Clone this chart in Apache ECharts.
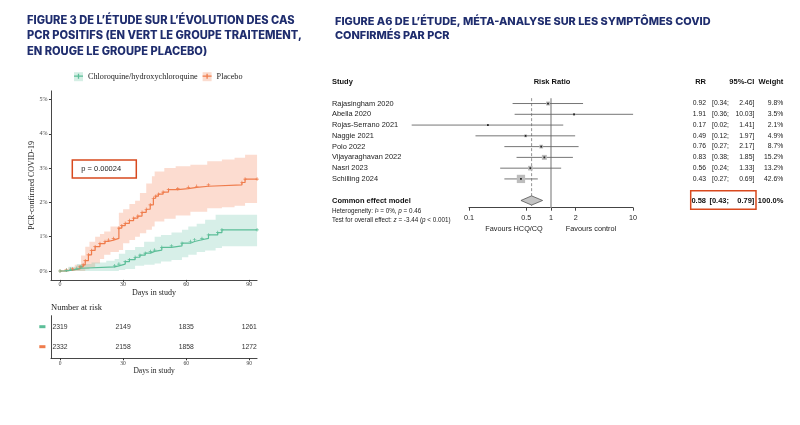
<!DOCTYPE html>
<html><head><meta charset="utf-8">
<script src="https://cdn.jsdelivr.net/npm/echarts@6/dist/echarts.min.js"></script>
<style>html,body{margin:0;padding:0;background:#fff}#c{width:800px;height:425px}</style>
</head><body><div id="c"></div>
<script>
// ---------- Data: Kaplan-Meier (cumulative % PCR-confirmed COVID-19) ----------
const placeboDays = [0, 3, 6, 9.5, 11, 12, 13.5, 15, 16.7, 19, 21.4, 23, 25.4, 28, 29.4, 31, 33, 35, 37, 39, 41, 42.9, 44.4, 45.5, 46.8, 49, 51.6, 56, 61, 65, 70.6, 86.5, 88, 93.7];
const placeboPct  = [0, 0.03, 0.06, 0.12, 0.18, 0.3, 0.47, 0.6, 0.71, 0.8, 0.86, 0.9, 0.95, 1.25, 1.32, 1.39, 1.47, 1.54, 1.6, 1.71, 1.8, 1.93, 2.12, 2.18, 2.24, 2.3, 2.37, 2.4, 2.44, 2.47, 2.51, 2.58, 2.68, 2.68];
const cqDays = [0, 3, 5, 8, 10, 26, 28, 31, 33, 35.7, 38, 40.5, 43, 45, 48.4, 53, 58, 62, 64, 67.5, 70.6, 75, 77, 93.7];
const cqPct  = [0, 0.02, 0.05, 0.08, 0.12, 0.15, 0.2, 0.27, 0.33, 0.4, 0.46, 0.52, 0.57, 0.61, 0.69, 0.73, 0.81, 0.86, 0.91, 0.95, 1.05, 1.12, 1.2, 1.2];
// confidence bands
const placeboBandDays = [0, 4, 7, 10, 12, 14, 16.7, 19, 21, 24, 28, 30, 33, 35.7, 38, 41, 43.7, 45, 49.6, 55, 62, 70, 77, 83, 88, 93.7];
const placeboUpper    = [0, 0.1, 0.18, 0.45, 0.71, 0.85, 1.0, 1.08, 1.15, 1.3, 1.7, 1.8, 1.95, 2.05, 2.27, 2.55, 2.76, 2.9, 3.0, 3.05, 3.1, 3.2, 3.25, 3.3, 3.39, 3.39];
const placeboLower    = [0, 0, 0, 0, 0.05, 0.1, 0.22, 0.35, 0.47, 0.55, 0.61, 0.81, 0.9, 1.0, 1.1, 1.2, 1.3, 1.44, 1.52, 1.62, 1.73, 1.83, 1.86, 1.9, 1.98, 2.0];
const cqBandDays = [0, 4, 8, 15, 22, 26, 28, 31, 35.7, 40, 45, 48, 53, 58, 61, 65, 69, 74, 77, 93.7];
const cqUpper    = [0, 0.12, 0.2, 0.25, 0.3, 0.35, 0.5, 0.61, 0.7, 0.85, 1.0, 1.05, 1.12, 1.2, 1.3, 1.38, 1.49, 1.64, 1.64, 1.64];
const cqLower    = [0, 0, 0, 0, 0, 0, 0.03, 0.06, 0.15, 0.18, 0.22, 0.28, 0.32, 0.4, 0.47, 0.55, 0.6, 0.67, 0.72, 0.72];
const kmXTicks = [0, 30, 60, 90];
const kmYTicks = [0, 1, 2, 3, 4, 5];
// number at risk
const riskDays = [0, 30, 60, 90];
const riskCQ = [2319, 2149, 1835, 1261];
const riskPlacebo = [2332, 2158, 1858, 1272];

// ---------- Data: forest plot ----------
const studies = ['Rajasingham 2020', 'Abella 2020', 'Rojas-Serrano 2021', 'Naggie 2021', 'Polo 2022', 'Vijayaraghavan 2022', 'Nasri 2023', 'Schilling 2024'];
const rr     = [0.92, 1.91, 0.17, 0.49, 0.76, 0.83, 0.56, 0.43];
const ciLow  = [0.34, 0.36, 0.02, 0.12, 0.27, 0.38, 0.24, 0.27];
const ciHigh = [2.46, 10.03, 1.41, 1.97, 2.17, 1.85, 1.33, 0.69];
const weights = [9.8, 3.5, 2.1, 4.9, 8.7, 15.2, 13.2, 42.6];
const pooledRR = 0.58, pooledLow = 0.43, pooledHigh = 0.79, pooledWeight = 100.0;
const rrTicks = [0.1, 0.5, 1, 2, 10];

// ---------- Styling ----------
const NAVY = '#1f2d6e', ORANGE = '#EF7C4C', GREEN = '#5CBE98';
const ORANGE_BAND = 'rgba(244,138,98,0.30)', GREEN_BAND = 'rgba(102,194,165,0.26)';
const SERIF = '"Liberation Serif","DejaVu Serif",serif';
const SANS = '"Liberation Sans",Arial,sans-serif';
const CQ = 'Chloroquine/hydroxychloroquine', PL = 'Placebo';
const PLUS = 'path://M4,0H6V4H10V6H6V10H4V6H0V4H4Z';
const LEG_PLUS = 'path://M0,4.3H10V5.7H0Z M4.3,2.2H5.7V7.8H4.3Z';
const L10 = Math.log10;

function stepBand(days, up, low, color) {
  return function (params, api) {
    const pts = [];
    for (let i = 0; i < days.length; i++) {
      pts.push(api.coord([days[i], up[i]]));
      if (i + 1 < days.length) pts.push(api.coord([days[i + 1], up[i]]));
    }
    for (let i = days.length - 1; i >= 0; i--) {
      if (i + 1 < days.length) pts.push(api.coord([days[i + 1], low[i]]));
      pts.push(api.coord([days[i], low[i]]));
    }
    return { type: 'polygon', shape: { points: pts }, style: { fill: color } };
  };
}

const RICH = {
  b: { fontWeight: 'bold', fontFamily: SANS, fontSize: 7.5, color: '#111' },
  s: { fontFamily: SANS, fontSize: 6.3, color: '#222' },
  i: { fontFamily: SANS, fontSize: 6.3, fontStyle: 'italic', color: '#222' }
};
function colAxis(position, margin, entries, align, fontSize) {
  return {
    gridIndex: 2, type: 'value', inverse: true, min: -0.5, max: 13.5, position: position,
    axisLine: { show: false, onZero: false }, axisTick: { show: false }, splitLine: { show: false },
    axisLabel: {
      customValues: entries.map(e => e[0]),
      formatter: v => { const e = entries.find(x => Math.abs(x[0] - v) < 1e-6); return e ? e[1] : ''; },
      align: align, margin: margin, fontFamily: SANS, fontSize: fontSize, color: '#222', rich: RICH
    }
  };
}
const studyEntries = [[0, '{b|Study}']].concat(studies.map((s, i) => [i + 2, s]),
  [[11, '{b|Common effect model}'],
   [12, '{s|Heterogeneity: }{i|I}{s|\u00b2 = 0%, }{i|p}{s| = 0.46}'],
   [12.85, '{s|Test for overall effect: }{i|z}{s| = -3.44 (}{i|p}{s| < 0.001)}']]);
const rrEntries = [[0, '{b|RR}']].concat(rr.map((v, i) => [i + 2, v.toFixed(2)]), [[11, '{b|' + pooledRR.toFixed(2) + '}']]);
const loEntries = ciLow.map((v, i) => [i + 2, '[' + v.toFixed(2) + ';']).concat([[11, '{b|[' + pooledLow.toFixed(2) + ';}']]);
const hiEntries = [[0, '{b|95%-CI}']].concat(ciHigh.map((v, i) => [i + 2, v.toFixed(2) + ']']), [[11, '{b|' + pooledHigh.toFixed(2) + ']}']]);
const wEntries = [[0, '{b|Weight}']].concat(weights.map((v, i) => [i + 2, v.toFixed(1) + '%']), [[11, '{b|' + pooledWeight.toFixed(1) + '%}']]);

const rrTickVals = rrTicks.map(L10);
const axisLineStyle = { color: '#333', width: 0.9 };

const option = {
  animation: false,
  backgroundColor: '#fff',
  title: [
    { text: 'FIGURE 3 DE L\u2019\u00c9TUDE SUR L\u2019\u00c9VOLUTION DES CAS\nPCR POSITIFS (EN VERT LE GROUPE TRAITEMENT,\nEN ROUGE LE GROUPE PLACEBO)',
      left: 27, top: 13, padding: 0, textStyle: { fontFamily: 'Inter', fontWeight: 800, fontSize: 11.1, lineHeight: 15.3, color: NAVY } },
    { text: 'FIGURE A6 DE L\u2019\u00c9TUDE, M\u00c9TA-ANALYSE SUR LES SYMPT\u00d4MES COVID\nCONFIRM\u00c9S PAR PCR',
      left: 335, top: 14, padding: 0, textStyle: { fontFamily: 'Inter', fontWeight: 800, fontSize: 10.9, lineHeight: 14.5, color: NAVY } },
    { text: 'Number at risk', left: 51, top: 303, padding: 0, textStyle: { fontFamily: SERIF, fontSize: 8.5, fontWeight: 'normal', color: '#222' } },
    { text: 'p = 0.00024', left: 72.3, top: 160, padding: [5, 15, 5, 9], borderColor: '#D8491E', borderWidth: 1.5,
      textStyle: { fontFamily: SANS, fontSize: 7.5, fontWeight: 'normal', color: '#222' } },
    { text: 'Risk Ratio', left: 552, top: 78, textAlign: 'center', padding: 0, textStyle: { fontFamily: SANS, fontSize: 7.5, fontWeight: 'bold', color: '#111' } },
    { text: 'Favours HCQ/CQ', left: 514, top: 225, textAlign: 'center', padding: 0, textStyle: { fontFamily: SANS, fontSize: 7.3, fontWeight: 'normal', color: '#222' } },
    { text: 'Favours control', left: 591, top: 225, textAlign: 'center', padding: 0, textStyle: { fontFamily: SANS, fontSize: 7.3, fontWeight: 'normal', color: '#222' } }
  ],
  legend: [
    { left: 74, top: 72.2, padding: 0, itemWidth: 9, itemHeight: 9, itemGap: 5, selectedMode: false,
      data: [{ name: CQ, icon: 'rect', itemStyle: { color: '#d5efe5' } }, { name: PL, icon: 'rect', itemStyle: { color: '#fbdccf' } }],
      textStyle: { fontFamily: SERIF, fontSize: 8.2, color: '#222' } },
    { left: 74, top: 72.2, padding: 0, itemWidth: 9, itemHeight: 9, itemGap: 5, selectedMode: false,
      data: [{ name: CQ, icon: LEG_PLUS, itemStyle: { color: GREEN } }, { name: PL, icon: LEG_PLUS, itemStyle: { color: ORANGE } }],
      textStyle: { fontFamily: SERIF, fontSize: 8.2, color: 'rgba(0,0,0,0)' } }
  ],
  graphic: [
    { type: 'rect', z: 100, shape: { x: 690.7, y: 190.7, width: 65.3, height: 18.6 }, style: { fill: 'none', stroke: '#D8491E', lineWidth: 1.5 } }
  ],
  grid: [
    { left: 50.96, top: 90.9, width: 206.1, height: 189 },
    { left: 50.96, top: 315.7, width: 206.1, height: 42.6 },
    { left: 387, top: 76.6, width: 262.4, height: 150.8 },
    { left: 469, top: 200, width: 164, height: 7.7 }
  ],
  xAxis: [
    { gridIndex: 0, type: 'value', min: -4.3, max: 93.7, axisLine: { onZero: false, lineStyle: axisLineStyle },
      axisTick: { customValues: kmXTicks, length: 2, lineStyle: { color: '#333' } },
      axisLabel: { customValues: kmXTicks, fontFamily: SERIF, fontSize: 6, color: '#444', margin: 2 },
      splitLine: { show: false }, name: 'Days in study', nameLocation: 'middle', nameGap: 9.5,
      nameTextStyle: { fontFamily: SERIF, fontSize: 8, color: '#222' } },
    { gridIndex: 1, type: 'value', min: -4.3, max: 93.7, axisLine: { onZero: false, lineStyle: axisLineStyle },
      axisTick: { customValues: kmXTicks, length: 2, lineStyle: { color: '#333' } },
      axisLabel: { customValues: kmXTicks, fontFamily: SERIF, fontSize: 5.5, color: '#444', margin: 2 },
      splitLine: { show: false }, name: 'Days in study', nameLocation: 'middle', nameGap: 8.5,
      nameTextStyle: { fontFamily: SERIF, fontSize: 7.5, color: '#222' } },
    { gridIndex: 2, type: 'value', min: -2, max: 1.2, show: false },
    { gridIndex: 3, type: 'value', min: -1.0001, max: 1.0001, axisLine: { onZero: false, lineStyle: { color: '#444', width: 1 } },
      axisTick: { customValues: rrTickVals, length: 3, lineStyle: { color: '#444' } },
      axisLabel: { customValues: rrTickVals, formatter: v => { const i = rrTickVals.findIndex(t => Math.abs(t - v) < 1e-6); return i >= 0 ? String(rrTicks[i]) : ''; },
        fontFamily: SANS, fontSize: 7.2, color: '#222', margin: 7 },
      splitLine: { show: false } }
  ],
  yAxis: [
    { gridIndex: 0, type: 'value', min: -0.26, max: 5.25, axisLine: { show: true, onZero: false, lineStyle: axisLineStyle },
      axisTick: { show: true, customValues: kmYTicks, length: 2, lineStyle: { color: '#333' } },
      axisLabel: { customValues: kmYTicks, formatter: v => v + '%', fontFamily: SERIF, fontSize: 6, color: '#444', margin: 3.5 },
      splitLine: { show: false }, name: 'PCR-confirmed COVID-19', nameLocation: 'middle', nameGap: 14,
      nameTextStyle: { fontFamily: SERIF, fontSize: 8, color: '#222' } },
    { gridIndex: 1, type: 'value', min: -0.55, max: 1.58, axisLine: { show: true, onZero: false, lineStyle: axisLineStyle },
      axisTick: { show: false }, splitLine: { show: false },
      axisLabel: { customValues: [0, 1], formatter: v => (v === 1 ? '{g|\u25ac}' : '{o|\u25ac}'), margin: 5,
        rich: { g: { color: GREEN, fontSize: 8, fontFamily: 'DejaVu Sans' }, o: { color: ORANGE, fontSize: 8, fontFamily: 'DejaVu Sans' } } } },
    colAxis('left', 55, studyEntries, 'left', 7.4),
    colAxis('right', 56.6, rrEntries, 'right', 6.8),
    colAxis('right', 79.6, loEntries, 'right', 6.8),
    colAxis('right', 104.9, hiEntries, 'right', 6.8),
    colAxis('right', 133.9, wEntries, 'right', 6.8),
    { gridIndex: 3, type: 'value', min: 0, max: 1, show: false }
  ],
  series: [
    { type: 'custom', xAxisIndex: 0, yAxisIndex: 0, silent: true, z: 1, data: [[0, 0]],
      renderItem: stepBand(placeboBandDays, placeboUpper, placeboLower, ORANGE_BAND) },
    { type: 'custom', xAxisIndex: 0, yAxisIndex: 0, silent: true, z: 1, data: [[0, 0]],
      renderItem: stepBand(cqBandDays, cqUpper, cqLower, GREEN_BAND) },
    { name: PL, type: 'line', xAxisIndex: 0, yAxisIndex: 0, step: 'end', z: 3,
      data: placeboDays.map((d, i) => [d, placeboPct[i]]),
      lineStyle: { color: ORANGE, width: 1.2 }, itemStyle: { color: ORANGE },
      symbol: PLUS, symbolSize: 3.5, showSymbol: true },
    { name: CQ, type: 'line', xAxisIndex: 0, yAxisIndex: 0, step: 'end', z: 3,
      data: cqDays.map((d, i) => [d, cqPct[i]]),
      lineStyle: { color: GREEN, width: 1.2 }, itemStyle: { color: GREEN },
      symbol: PLUS, symbolSize: 3.5, showSymbol: true },
    { type: 'custom', xAxisIndex: 1, yAxisIndex: 1, silent: true,
      data: riskDays.map((d, i) => [d, 1, riskCQ[i]]).concat(riskDays.map((d, i) => [d, 0, riskPlacebo[i]])),
      renderItem: (params, api) => {
        const p = api.coord([api.value(0), api.value(1)]);
        return { type: 'text', x: p[0], y: p[1], style: { text: String(api.value(2)), align: 'center', verticalAlign: 'middle', fontFamily: SANS, fontSize: 6.8, fill: '#333' } };
      } },
    // reference lines (RR = 1 and pooled estimate)
    { type: 'custom', xAxisIndex: 2, yAxisIndex: 2, silent: true, data: [[0, 0]],
      renderItem: (params, api) => {
        const a = api.coord([0, 1.5]), b = api.coord([0, 11.67]);
        const c = api.coord([L10(pooledRR), 1.5]), d = api.coord([L10(pooledRR), 11.5]);
        return { type: 'group', children: [
          { type: 'line', shape: { x1: a[0], y1: a[1], x2: b[0], y2: b[1] }, style: { stroke: '#9a9a9a', lineWidth: 1.4 } },
          { type: 'line', shape: { x1: c[0], y1: c[1], x2: d[0], y2: d[1] }, style: { stroke: '#888', lineWidth: 0.9, lineDash: [3, 2] } }
        ] };
      } },
    // study estimates
    { type: 'custom', xAxisIndex: 2, yAxisIndex: 2, silent: true, z: 3,
      data: studies.map((s, i) => [L10(rr[i]), i + 2, L10(ciLow[i]), L10(ciHigh[i]), weights[i]]),
      renderItem: (params, api) => {
        const c = api.coord([api.value(0), api.value(1)]);
        const l = api.coord([api.value(2), api.value(1)]);
        const h = api.coord([api.value(3), api.value(1)]);
        const side = 1.27 * Math.sqrt(api.value(4));
        return { type: 'group', children: [
          { type: 'line', shape: { x1: l[0], y1: c[1], x2: h[0], y2: c[1] }, style: { stroke: '#666', lineWidth: 0.9 } },
          { type: 'rect', shape: { x: c[0] - side / 2, y: c[1] - side / 2, width: side, height: side }, style: { fill: '#bdbdbd' } },
          { type: 'rect', shape: { x: c[0] - 0.9, y: c[1] - 0.9, width: 1.8, height: 1.8 }, style: { fill: '#222' } }
        ] };
      } },
    // pooled diamond
    { type: 'custom', xAxisIndex: 2, yAxisIndex: 2, silent: true, z: 3,
      data: [[L10(pooledRR), 11, L10(pooledLow), L10(pooledHigh)]],
      renderItem: (params, api) => {
        const c = api.coord([api.value(0), api.value(1)]);
        const l = api.coord([api.value(2), api.value(1)]);
        const h = api.coord([api.value(3), api.value(1)]);
        const half = 4.6;
        return { type: 'polygon', shape: { points: [[l[0], c[1]], [c[0], c[1] - half], [h[0], c[1]], [c[0], c[1] + half]] },
          style: { fill: '#c4c4c4', stroke: '#555', lineWidth: 0.8 } };
      } }
  ]
};
const chart = echarts.init(document.getElementById('c'), null, { renderer: 'canvas' });
chart.setOption(option);
</script></body></html>
